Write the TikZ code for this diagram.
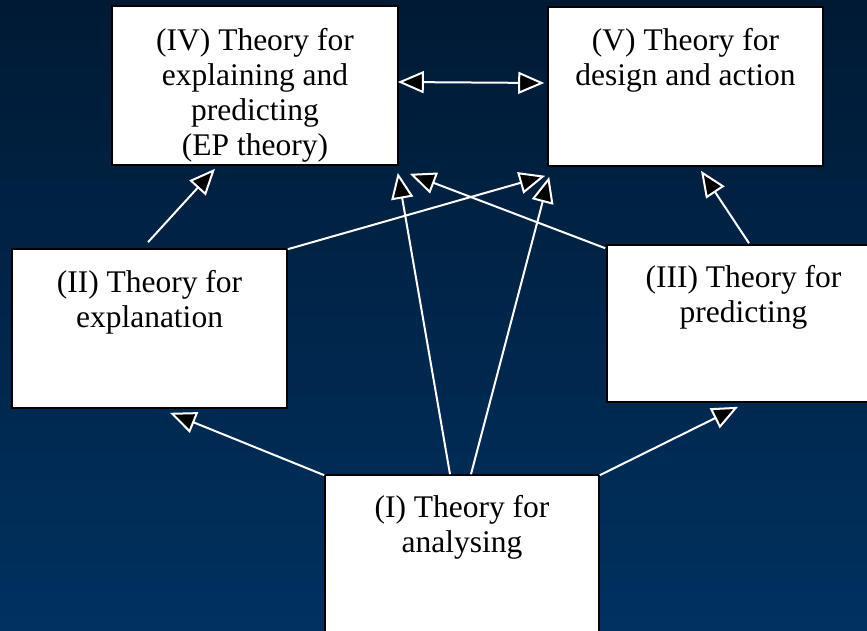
\documentclass[tikz,border=0pt]{standalone}
\usepackage{fontspec}
\setmainfont{Liberation Serif}
\usetikzlibrary{arrows.meta}
\definecolor{bgtop}{RGB}{0,26,52}
\definecolor{bgbot}{RGB}{0,49,96}
\tikzset{
  box/.style={draw=black, line width=1.6pt, fill=white, rectangle, inner sep=0pt},
  txt/.style={anchor=north, inner sep=0pt, align=center, font=\fontsize{31.5}{35}\selectfont},
  conn/.style={draw=white, line width=2pt, -{Triangle[length=26pt,width=22pt,fill=black]}},
  conn2/.style={draw=white, line width=2pt, {Triangle[length=26pt,width=22pt,fill=black]}-{Triangle[length=26pt,width=22pt,fill=black]}}
}
\begin{document}
\begin{tikzpicture}[x=1pt,y=-1pt]
\useasboundingbox (0,0) rectangle (867,631);
\shade[top color=bgtop, bottom color=bgbot] (0,0) rectangle (867,631);
% boxes
\node[box, minimum width=286pt, minimum height=159pt] (IV) at (255,85.5) {};
\node[box, minimum width=275pt, minimum height=159pt] (V) at (685.5,86.5) {};
\node[box, minimum width=275pt, minimum height=159pt] (II) at (149.5,328.5) {};
\node[box, minimum width=273pt, minimum height=157pt] (III) at (743.5,323.5) {};
\node[box, minimum width=274pt, minimum height=159pt] (I) at (462,554.5) {};
% texts
\node[txt] (IVt) at (255,25.5) {\strut(IV) Theory for\\explaining and\\predicting\\(EP theory)};
\node[txt] (Vt) at (685.5,25.5) {\strut(V) Theory for\\design and action};
\node[txt] (IIt) at (149.5,267.5) {\strut(II) Theory for\\explanation};
\node[txt] (IIIt) at (743.5,262.5) {\strut(III) Theory for\\predicting};
\node[txt] (It) at (462,492.5) {\strut(I) Theory for\\analysing};
% connectors
\draw[conn2] ([shift={(-1,-3.5)}]IV.east) -- ([shift={(-3,-3.5)}]V.west);
\draw[conn] ([shift={(-1.5,-6)}]II.north) -- ([shift={(-40,3)}]IV.south);
\draw[conn] ([shift={(0,1)}]II.north east) -- ([shift={(-2,9)}]V.south west);
\draw[conn] ([shift={(-1,4)}]III.north west) -- ([shift={(11,8)}]IV.south east);
\draw[conn] ([shift={(5.5,-1)}]III.north) -- ([shift={(15.5,4)}]V.south);
\draw[conn] ([shift={(-12,0)}]I.north) -- ([shift={(-1,7)}]IV.south east);
\draw[conn] ([shift={(9,0)}]I.north) -- ([shift={(2,10)}]V.south west);
\draw[conn] ([shift={(0,1)}]I.north west) -- ([shift={(20.5,4)}]II.south);
\draw[conn] ([shift={(0,1)}]I.north east) -- ([shift={(-5.5,4)}]III.south);
\end{tikzpicture}
\end{document}
